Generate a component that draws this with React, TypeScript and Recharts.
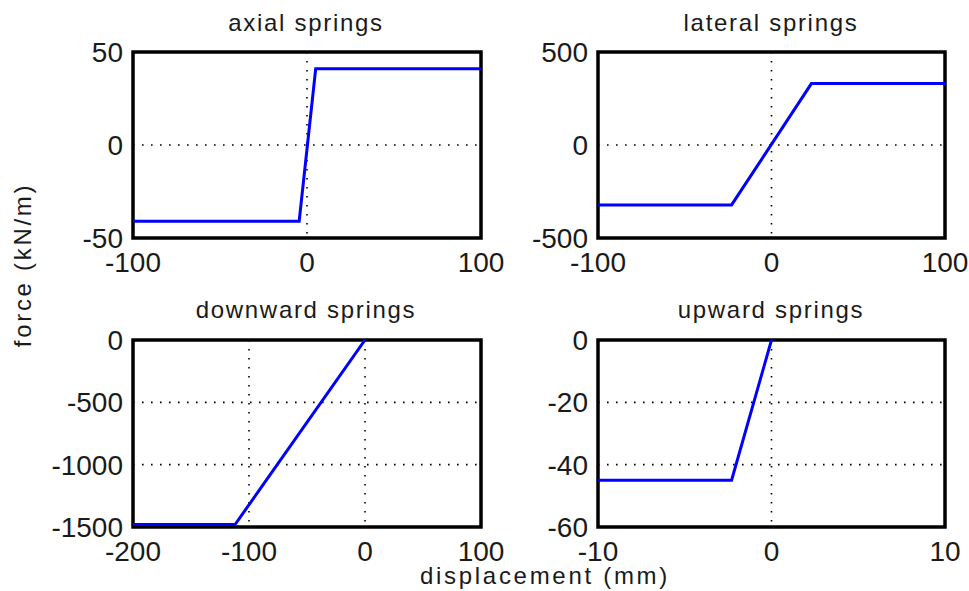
import React from 'react';
import { LineChart, Line, XAxis, YAxis, CartesianGrid, ReferenceArea } from 'recharts';

// spring curves: displacement (mm) vs force (kN/m)
const axialDisp = [-100, -4.5, 5, 100];
const axialForce = [-41, -41, 41, 41];

const lateralDisp = [-100, -23, 23, 100];
const lateralForce = [-322, -322, 330, 330];

const downwardDisp = [-200, -112, 0];
const downwardForce = [-1480, -1480, 0];

const upwardDisp = [-10, -2.3, 0];
const upwardForce = [-45, -45, 0];

const axialXTicks = [-100, 0, 100];
const axialYTicks = [-50, 0, 50];
const lateralXTicks = [-100, 0, 100];
const lateralYTicks = [-500, 0, 500];
const downwardXTicks = [-200, -100, 0, 100];
const downwardYTicks = [-1500, -1000, -500, 0];
const upwardXTicks = [-10, 0, 10];
const upwardYTicks = [-60, -40, -20, 0];

const FONT = '"Liberation Sans", Arial, sans-serif';
const INK = '#1a1a1a';

const toRows = (xs: number[], ys: number[]) => xs.map((x, i) => ({ x, y: ys[i] }));

interface PanelProps {
  box: { x: number; y: number; w: number; h: number };
  xs: number[];
  ys: number[];
  xTicks: number[];
  yTicks: number[];
}

const Panel = ({ box, xs, ys, xTicks, yTicks }: PanelProps) => {
  const xDom: [number, number] = [xTicks[0], xTicks[xTicks.length - 1]];
  const yDom: [number, number] = [yTicks[0], yTicks[yTicks.length - 1]];
  const padL = 100, padT = 20, padR = 40, padB = 42;
  return (
    <div style={{ position: 'absolute', left: box.x - padL, top: box.y - padT }}>
      <LineChart
        width={box.w + padL + padR}
        height={box.h + padT + padB}
        data={toRows(xs, ys)}
        margin={{ top: padT, right: padR, bottom: 0, left: 0 }}
      >
        <CartesianGrid stroke="#000" strokeWidth={1.6} strokeDasharray="1.6 7.4" />
        <XAxis
          dataKey="x" type="number" domain={xDom} ticks={xTicks} interval={0}
          allowDataOverflow height={padB} axisLine={false} tickLine={false}
          tickSize={0} tickMargin={14}
          tick={{ fontSize: 28, fill: INK, fontFamily: FONT }}
        />
        <YAxis
          dataKey="y" type="number" domain={yDom} ticks={yTicks} interval={0}
          allowDataOverflow width={padL} axisLine={false} tickLine={false}
          tickSize={0} tickMargin={10}
          tick={{ fontSize: 28, fill: INK, fontFamily: FONT }}
        />
        <Line type="linear" dataKey="y" stroke="#0000ff" strokeWidth={3} dot={false} isAnimationActive={false} />
        <ReferenceArea x1={xDom[0]} x2={xDom[1]} y1={yDom[0]} y2={yDom[1]} fill="none" stroke="#000" strokeWidth={3.5} ifOverflow="visible" />
      </LineChart>
    </div>
  );
};

const boxes = {
  tl: { x: 133, y: 52, w: 348, h: 186 },
  tr: { x: 598, y: 52, w: 347, h: 186 },
  bl: { x: 133, y: 340, w: 348, h: 187 },
  br: { x: 598, y: 340, w: 347, h: 187 },
};

const titleStyle = { fontFamily: FONT, fontSize: 24, letterSpacing: 1.7, fill: INK } as const;

export default function App() {
  return (
    <div style={{ position: 'absolute', left: 0, top: 0, width: 969, height: 591, background: '#fff', overflow: 'hidden' }}>
      <Panel box={boxes.tl} xs={axialDisp} ys={axialForce} xTicks={axialXTicks} yTicks={axialYTicks} />
      <Panel box={boxes.tr} xs={lateralDisp} ys={lateralForce} xTicks={lateralXTicks} yTicks={lateralYTicks} />
      <Panel box={boxes.bl} xs={downwardDisp} ys={downwardForce} xTicks={downwardXTicks} yTicks={downwardYTicks} />
      <Panel box={boxes.br} xs={upwardDisp} ys={upwardForce} xTicks={upwardXTicks} yTicks={upwardYTicks} />
      {/* titles and shared axis labels */}
      <svg width={969} height={591} style={{ position: 'absolute', left: 0, top: 0, pointerEvents: 'none' }}>
        <text x={306} y={31} textAnchor="middle" {...titleStyle}>axial springs</text>
        <text x={771} y={31} textAnchor="middle" {...titleStyle}>lateral springs</text>
        <text x={306} y={318} textAnchor="middle" {...titleStyle}>downward springs</text>
        <text x={771} y={318} textAnchor="middle" {...titleStyle}>upward springs</text>
        <text x={545} y={584} textAnchor="middle" {...titleStyle} letterSpacing={2.7}>displacement (mm)</text>
        <text x={0} y={0} textAnchor="middle" {...titleStyle} letterSpacing={2.7}
          transform="translate(31 265) rotate(-90)">force (kN/m)</text>
      </svg>
    </div>
  );
}
